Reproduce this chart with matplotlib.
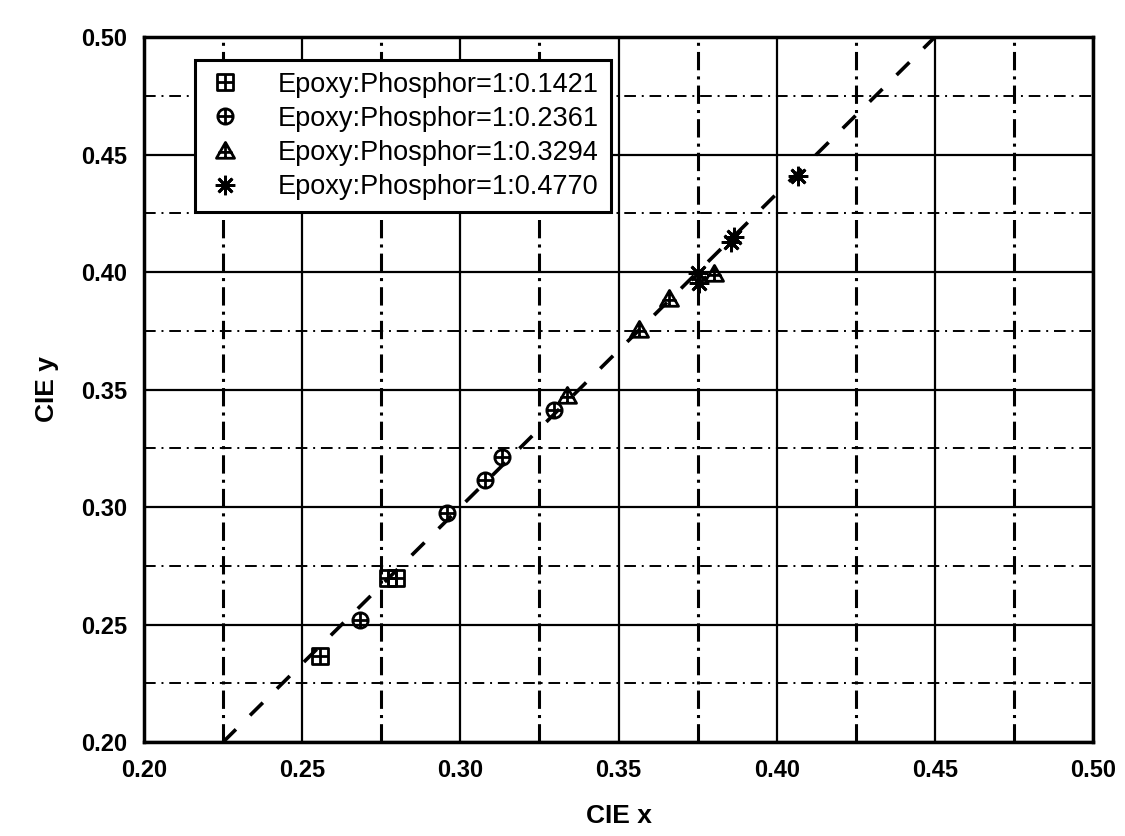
import matplotlib.pyplot as plt
import numpy as np
from matplotlib.path import Path
from matplotlib.ticker import MultipleLocator

plt.rcParams["font.family"] = ["Liberation Sans", "DejaVu Sans"]

# CIE coordinates, one pair of lists per mixing ratio
labels = ["Epoxy:Phosphor=1:0.1421", "Epoxy:Phosphor=1:0.2361",
          "Epoxy:Phosphor=1:0.3294", "Epoxy:Phosphor=1:0.4770"]

x_1421 = [0.2555, 0.2771, 0.2797]
y_1421 = [0.2367, 0.2697, 0.2700]

x_2361 = [0.2682, 0.2957, 0.3078, 0.3131, 0.3295]
y_2361 = [0.2518, 0.2975, 0.3116, 0.3215, 0.3411]

x_3294 = [0.3336, 0.3566, 0.3659, 0.3802]
y_3294 = [0.3473, 0.3754, 0.3887, 0.3990]

x_4770 = [0.3750, 0.3755, 0.3855, 0.3866, 0.4067]
y_4770 = [0.3997, 0.3954, 0.4128, 0.4150, 0.4409]

# dashed guide line y = a*x + b
fit_slope = 1.3333
fit_intercept = -0.1000
fit_x_range = [0.225, 0.450]


def boxed_plus(shape):
    """outline marker (square/circle/triangle) with a plus inside"""
    if shape == "s":
        outline = Path([(-1, -1), (1, -1), (1, 1), (-1, 1), (-1, -1)],
                       [Path.MOVETO] + [Path.LINETO] * 3 + [Path.CLOSEPOLY])
        cross = Path([(-1, 0), (1, 0), (0, -1), (0, 1)],
                     [Path.MOVETO, Path.LINETO, Path.MOVETO, Path.LINETO])
    elif shape == "o":
        outline = Path.unit_circle()
        cross = Path([(-1, 0), (1, 0), (0, -1), (0, 1)],
                     [Path.MOVETO, Path.LINETO, Path.MOVETO, Path.LINETO])
    else:
        outline = Path([(0, 1), (-1, -0.75), (1, -0.75), (0, 1)],
                       [Path.MOVETO, Path.LINETO, Path.LINETO, Path.CLOSEPOLY])
        cross = Path([(-0.75, -0.1), (0.75, -0.1), (0, 1), (0, -0.75)],
                     [Path.MOVETO, Path.LINETO, Path.MOVETO, Path.LINETO])
    return Path.make_compound_path(outline, cross)


markers = [boxed_plus("s"), boxed_plus("o"), boxed_plus("^"), (8, 2, 0)]
sizes = [11, 11, 13, 14]
xs = [x_1421, x_2361, x_3294, x_4770]
ys = [y_1421, y_2361, y_3294, y_4770]

fig = plt.figure(figsize=(11.25, 8.36), dpi=100)
ax = fig.add_axes([0.128, 0.1124, 0.8436, 0.8433])

ax.set_xlim(0.20, 0.50)
ax.set_ylim(0.20, 0.50)
ax.xaxis.set_major_locator(MultipleLocator(0.05))
ax.yaxis.set_major_locator(MultipleLocator(0.05))
ax.xaxis.set_minor_locator(MultipleLocator(0.025))
ax.yaxis.set_minor_locator(MultipleLocator(0.025))

ax.grid(which="major", color="black", linestyle="-", linewidth=1.6)
ax.xaxis.grid(which="minor", color="black", linestyle=(0, (6, 2, 1, 2)), linewidth=2.2)
ax.yaxis.grid(which="minor", color="black", linestyle=(0, (6, 3, 1, 3)), linewidth=1.4)
ax.set_axisbelow(True)

fx = np.array(fit_x_range)
ax.plot(fx, fit_slope * fx + fit_intercept, color="black", linewidth=2.6,
        dashes=(5, 5.5), zorder=3)

for x, y, m, ms, lab in zip(xs, ys, markers, sizes, labels):
    ax.plot(x, y, linestyle="none", marker=m, markersize=ms,
            markerfacecolor="none", markeredgecolor="black",
            markeredgewidth=2.0, color="black", label=lab, zorder=4)

for s in ax.spines.values():
    s.set_linewidth(2.5)

ticks = np.arange(0.20, 0.501, 0.05)
ax.tick_params(which="both", length=0, pad=12, labelsize=17)
ax.set_xticks(ticks)
ax.set_yticks(ticks)
ax.set_xticklabels([f"{v:.2f}" for v in ticks], fontweight="bold")
ax.set_yticklabels([f"{v:.2f}" for v in ticks], fontweight="bold")

ax.set_xlabel("CIE x", fontsize=19, fontweight="bold", labelpad=16)
ax.set_ylabel("CIE y", fontsize=19, fontweight="bold", labelpad=16)

leg = ax.legend(loc="upper left", bbox_to_anchor=(0.054, 0.968), borderaxespad=0,
                fontsize=19.5, frameon=True, fancybox=False, shadow=False,
                handlelength=1.3, handletextpad=1.3, borderpad=0.45,
                labelspacing=0.3, framealpha=1)
leg.get_frame().set_edgecolor("black")
leg.get_frame().set_linewidth(2.2)

fig.savefig("out.png", dpi=100)
